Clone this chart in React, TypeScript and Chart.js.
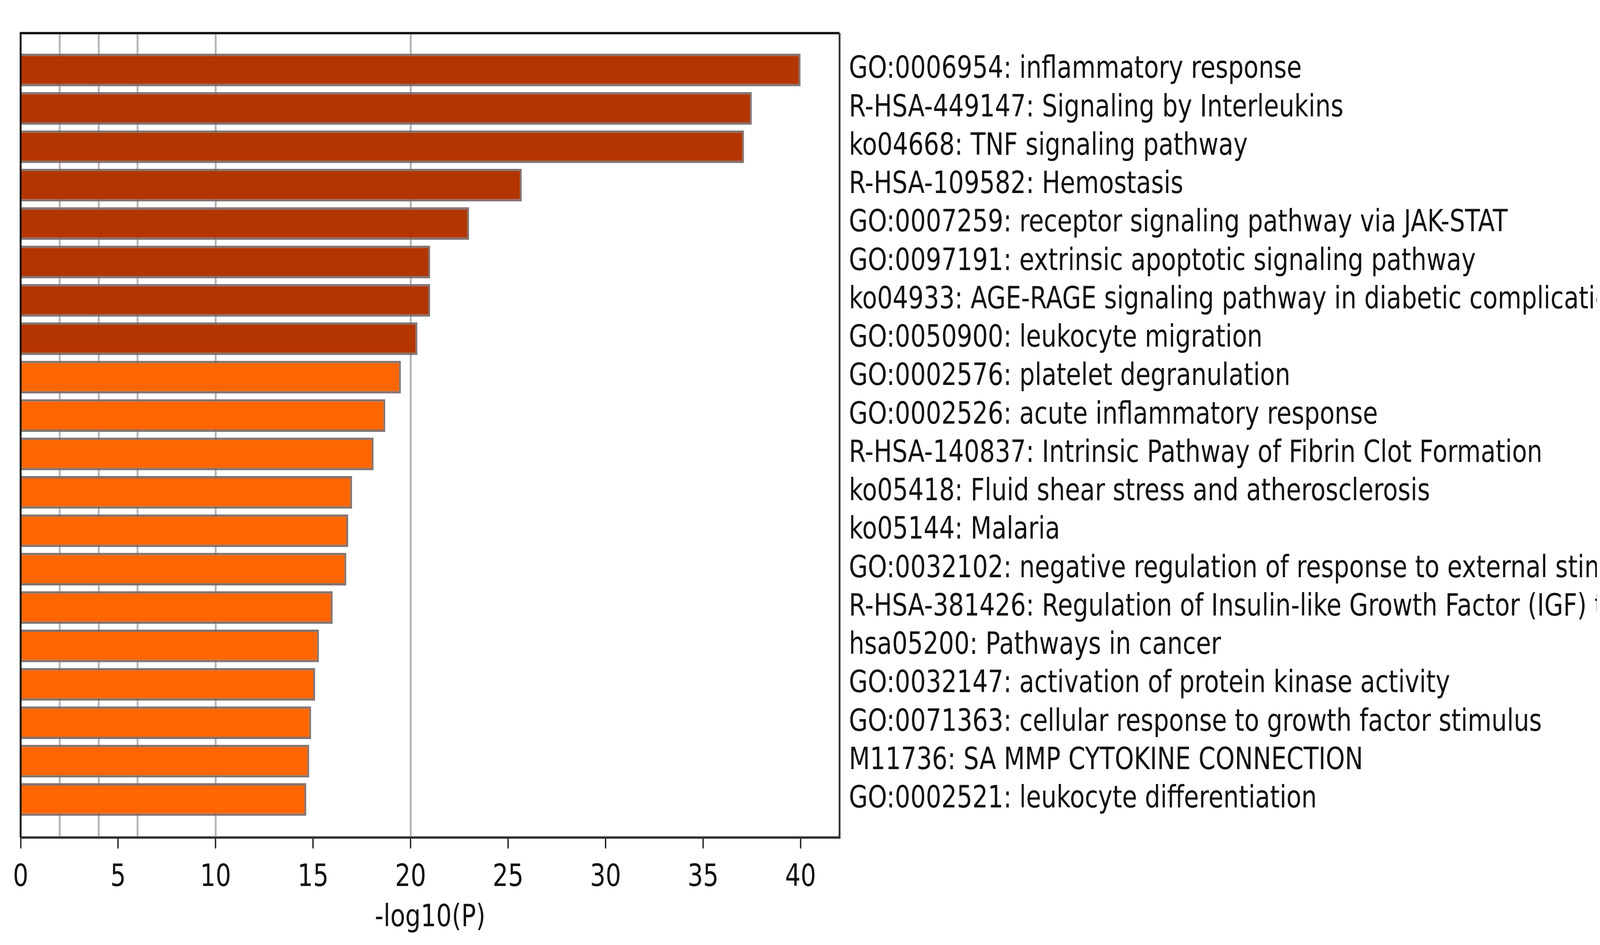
import React, { useEffect, useRef } from 'react';
import { Chart, registerables } from 'chart.js';

Chart.register(...registerables);

const CATEGORIES = [
  'GO:0006954: inflammatory response',
  'R-HSA-449147: Signaling by Interleukins',
  'ko04668: TNF signaling pathway',
  'R-HSA-109582: Hemostasis',
  'GO:0007259: receptor signaling pathway via JAK-STAT',
  'GO:0097191: extrinsic apoptotic signaling pathway',
  'ko04933: AGE-RAGE signaling pathway in diabetic complications',
  'GO:0050900: leukocyte migration',
  'GO:0002576: platelet degranulation',
  'GO:0002526: acute inflammatory response',
  'R-HSA-140837: Intrinsic Pathway of Fibrin Clot Formation',
  'ko05418: Fluid shear stress and atherosclerosis',
  'ko05144: Malaria',
  'GO:0032102: negative regulation of response to external stimulus',
  'R-HSA-381426: Regulation of Insulin-like Growth Factor (IGF) transport',
  'hsa05200: Pathways in cancer',
  'GO:0032147: activation of protein kinase activity',
  'GO:0071363: cellular response to growth factor stimulus',
  'M11736: SA MMP CYTOKINE CONNECTION',
  'GO:0002521: leukocyte differentiation',
];

const VALUES = [
  40.0, 37.5, 37.1, 25.7, 23.0, 21.0, 21.0, 20.35, 19.5, 18.7,
  18.1, 17.0, 16.8, 16.7, 16.0, 15.3, 15.1, 14.9, 14.8, 14.65,
];

// 1 = top cluster (dark), 0 = rest (orange)
const GROUPS = [1, 1, 1, 1, 1, 1, 1, 1, 0, 0, 0, 0, 0, 0, 0, 0, 0, 0, 0, 0];

const X_TICKS = [0, 5, 10, 15, 20, 25, 30, 35, 40];
const GRID_LINES = [2, 4, 6, 10, 20];

const DARK = '#B33500';
const ORANGE = '#FF6600';
const FONT = 'DejaVu Sans';
const SX = 0.8;
const VIS_W = 4395;
const VIS_H = 2402;

export default function App() {
  const ref = useRef<HTMLCanvasElement>(null);

  useEffect(() => {
    if (!ref.current) return;
    const framePlugin = {
      id: 'frame',
      afterDatasetsDraw(chart: any) {
        const { ctx, chartArea: a } = chart;
        ctx.save();
        ctx.lineWidth = 6;
        ctx.strokeStyle = '#111111';
        ctx.beginPath();
        ctx.moveTo(a.left, a.bottom);
        ctx.lineTo(a.left, a.top);
        ctx.lineTo(a.right, a.top);
        ctx.stroke();
        ctx.strokeStyle = '#333333';
        ctx.beginPath();
        ctx.moveTo(a.right, a.top);
        ctx.lineTo(a.right, a.bottom);
        ctx.lineTo(a.left, a.bottom);
        ctx.stroke();
        ctx.restore();
      },
    };

    const chart = new Chart(ref.current, {
      type: 'bar',
      data: {
        datasets: [
          {
            data: VALUES.map((v, i) => ({ x: v, y: i })),
            backgroundColor: GROUPS.map((g) => (g ? DARK : ORANGE)),
            borderColor: 'rgba(120,100,95,0.9)',
            borderWidth: 6,
            categoryPercentage: 1,
            barPercentage: 0.85,
            xAxisID: 'x',
            yAxisID: 'y',
          } as any,
        ],
      },
      options: {
        indexAxis: 'y',
        animation: false,
        responsive: true,
        maintainAspectRatio: false,
        layout: { padding: { left: 56, top: 76, right: 0, bottom: 0 } },
        plugins: { legend: { display: false }, tooltip: { enabled: false } },
        scales: {
          x: {
            type: 'linear',
            position: 'bottom',
            offset: false,
            min: 0,
            max: 42,
            afterBuildTicks: (s: any) => {
              s.ticks = X_TICKS.map((v) => ({ value: v }));
            },
            afterFit: (s: any) => {
              s.height = 267;
            },
            grid: {
              drawOnChartArea: false,
              drawTicks: true,
              tickLength: 28,
              tickColor: '#111111',
              tickWidth: 4,
            },
            border: { display: false },
            ticks: {
              font: { family: FONT, size: 78 },
              color: '#111111',
              padding: 29,
              autoSkip: false,
              maxRotation: 0,
            },
            title: {
              display: true,
              text: '-log10(P)',
              font: { family: FONT, size: 78 },
              color: '#111111',
              padding: { top: 0, bottom: 13 },
            },
          },
          xg: {
            type: 'linear',
            position: 'bottom',
            offset: false,
            min: 0,
            max: 42,
            afterBuildTicks: (s: any) => {
              s.ticks = GRID_LINES.map((v) => ({ value: v }));
            },
            ticks: { display: false },
            grid: { color: '#b4b4b4', lineWidth: 6, drawTicks: false },
            border: { display: false },
          },
          y: {
            type: 'linear',
            position: 'right',
            offset: false,
            reverse: true,
            min: -0.96,
            max: 19.99,
            afterBuildTicks: (s: any) => {
              s.ticks = CATEGORIES.map((_, i) => ({ value: i }));
            },
            afterFit: (s: any) => {
              s.width = VIS_W / SX - 2676;
            },
            ticks: {
              callback: (v: any) => CATEGORIES[Math.round(Number(v))] ?? '',
              font: { family: FONT, size: 78 },
              color: '#111111',
              padding: 30,
              autoSkip: false,
            },
            grid: { display: false, drawTicks: false },
            border: { display: false },
          },
        },
      } as any,
      plugins: [framePlugin],
    });
    return () => chart.destroy();
  }, []);

  return (
    <div style={{ width: VIS_W, height: VIS_H, overflow: 'hidden' }}>
      <div
        style={{
          width: VIS_W / SX,
          height: VIS_H,
          transform: `scaleX(${SX})`,
          transformOrigin: '0 0',
        }}
      >
        <canvas ref={ref} />
      </div>
    </div>
  );
}
